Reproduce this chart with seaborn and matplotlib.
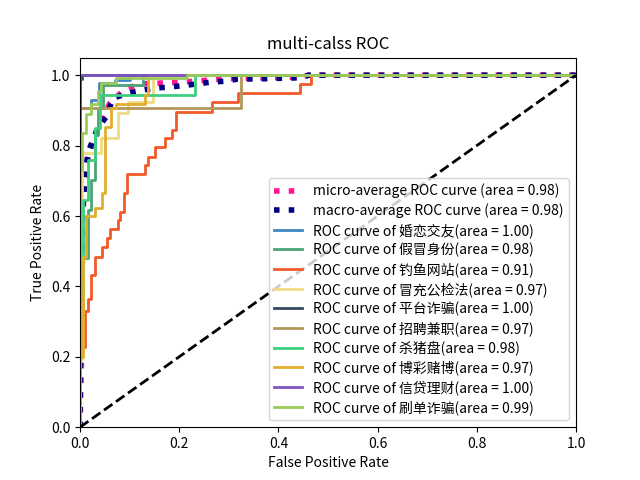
import matplotlib
matplotlib.use("Agg")
import matplotlib.pyplot as plt
import seaborn as sns
import pandas as pd

plt.rcParams['font.family'] = ['Noto Sans CJK SC', 'DejaVu Sans']
plt.rcParams['axes.unicode_minus'] = False

# ---- data ----
micro_fpr = [0, 0.003, 0.005, 0.008, 0.015, 0.025, 0.035, 0.045, 0.06, 0.09, 0.12, 0.2, 0.3, 0.45, 0.46, 1]
micro_tpr = [0, 0.19, 0.5, 0.7, 0.76, 0.80, 0.85, 0.88, 0.92, 0.96, 0.975, 0.98, 0.99, 0.995, 1, 1]
macro_fpr = [0, 0, 0.005, 0.01, 0.016, 0.026, 0.036, 0.052, 0.067, 0.1, 0.147, 0.177, 0.206, 0.262, 0.292, 0.318, 0.373, 0.45, 0.46, 1]
macro_tpr = [0, 0.55, 0.62, 0.70, 0.78, 0.816, 0.85, 0.88, 0.935, 0.95, 0.963, 0.966, 0.97, 0.98, 0.983, 0.989, 0.99, 0.993, 1, 1]
micro_auc = 0.98
macro_auc = 0.98

classes = ["婚恋交友", "假冒身份", "钓鱼网站", "冒充公检法", "平台诈骗",
           "招聘兼职", "杀猪盘", "博彩赌博", "信贷理财", "刷单诈骗"]
aucs = [1.00, 0.98, 0.91, 0.97, 1.00, 0.97, 0.98, 0.97, 1.00, 0.99]

fpr_c0 = [0, 0, 0.022, 0.022, 0.038, 0.038, 0.071, 0.071, 0.101, 0.101, 1]
tpr_c0 = [0, 0.906, 0.906, 0.929, 0.929, 0.977, 0.977, 0.986, 0.986, 1, 1]
fpr_c1 = [0, 0, 0.016, 0.016, 0.022, 0.022, 0.030, 0.030, 0.036, 0.036, 0.046, 0.046, 0.127, 0.127, 1]
tpr_c1 = [0, 0.482, 0.482, 0.618, 0.618, 0.703, 0.703, 0.830, 0.830, 0.906, 0.906, 0.972, 0.972, 1, 1]
fpr_c2 = [0, 0, 0.010, 0.010, 0.016, 0.016, 0.022, 0.022, 0.030, 0.030, 0.044, 0.044, 0.054, 0.054,
          0.060, 0.060, 0.077, 0.077, 0.081, 0.081, 0.089, 0.089, 0.095, 0.095, 0.131, 0.131, 0.137, 0.137,
          0.151, 0.151, 0.171, 0.171, 0.185, 0.185, 0.194, 0.194, 0.266, 0.266, 0.319, 0.319, 0.444, 0.444,
          0.466, 0.466, 1]
tpr_c2 = [0, 0.227, 0.227, 0.331, 0.331, 0.363, 0.363, 0.433, 0.433, 0.484, 0.484, 0.513, 0.513, 0.538,
          0.538, 0.564, 0.564, 0.589, 0.589, 0.612, 0.612, 0.666, 0.666, 0.720, 0.720, 0.745, 0.745, 0.768,
          0.768, 0.796, 0.796, 0.822, 0.822, 0.844, 0.844, 0.895, 0.895, 0.924, 0.924, 0.949, 0.949, 0.975,
          0.975, 1, 1]
fpr_c3 = [0, 0, 0.004, 0.004, 0.042, 0.042, 0.077, 0.077, 0.097, 0.097, 0.147, 0.147, 1]
tpr_c3 = [0, 0.193, 0.193, 0.78, 0.78, 0.822, 0.822, 0.892, 0.892, 0.924, 0.924, 1, 1]
fpr_c4 = [0, 0, 0.004, 0.004, 1]
tpr_c4 = [0, 0.99, 0.99, 1, 1]
fpr_c5 = [0, 0, 0.325, 0.325, 1]
tpr_c5 = [0, 0.906, 0.906, 1, 1]
fpr_c6 = [0, 0, 0.006, 0.006, 0.016, 0.016, 0.03, 0.03, 0.04, 0.04, 0.232, 0.232, 1]
tpr_c6 = [0, 0.36, 0.36, 0.645, 0.645, 0.76, 0.76, 0.85, 0.85, 0.943, 0.943, 1, 1]
fpr_c7 = [0, 0, 0.006, 0.006, 0.012, 0.012, 0.030, 0.030, 0.044, 0.044, 0.05, 0.05, 0.063, 0.063,
          0.073, 0.073, 0.131, 0.131, 0.137, 0.137, 1]
tpr_c7 = [0, 0.2, 0.2, 0.484, 0.484, 0.60, 0.60, 0.623, 0.623, 0.666, 0.666, 0.853, 0.853, 0.906,
          0.906, 0.918, 0.918, 0.943, 0.943, 1, 1]
fpr_c8 = [0, 0, 1]
tpr_c8 = [0, 1, 1]
fpr_c9 = [0, 0, 0.004, 0.004, 0.012, 0.012, 0.022, 0.022, 0.036, 0.036, 0.042, 0.042, 0.073, 0.073,
          0.216, 0.216, 1]
tpr_c9 = [0, 0.73, 0.73, 0.835, 0.835, 0.89, 0.89, 0.919, 0.919, 0.955, 0.955, 0.977, 0.977, 0.993,
          0.993, 1, 1]

fprs = [fpr_c0, fpr_c1, fpr_c2, fpr_c3, fpr_c4, fpr_c5, fpr_c6, fpr_c7, fpr_c8, fpr_c9]
tprs = [tpr_c0, tpr_c1, tpr_c2, tpr_c3, tpr_c4, tpr_c5, tpr_c6, tpr_c7, tpr_c8, tpr_c9]
colors = ["#3f86c4", "#4aa674", "#f15a29", "#f0db82", "#34495e",
          "#b3975a", "#3dcf80", "#e1ae30", "#7e55c2", "#9bcb58"]

fig, ax = plt.subplots(figsize=(6.4, 4.8), dpi=100)

def draw(x, y, **kw):
    df = pd.DataFrame({"fpr": x, "tpr": y})
    sns.lineplot(data=df, x="fpr", y="tpr", sort=False, estimator=None, ax=ax, **kw)

draw(micro_fpr, micro_tpr, color="deeppink", linestyle=":", linewidth=4,
     label="micro-average ROC curve (area = {0:0.2f})".format(micro_auc))
draw(macro_fpr, macro_tpr, color="navy", linestyle=":", linewidth=4,
     label="macro-average ROC curve (area = {0:0.2f})".format(macro_auc))
for name, a, x, y, c in zip(classes, aucs, fprs, tprs, colors):
    draw(x, y, color=c, linewidth=2,
         label="ROC curve of {0}(area = {1:0.2f})".format(name, a))

diag = pd.DataFrame({"fpr": [0, 1], "tpr": [0, 1]})
sns.lineplot(data=diag, x="fpr", y="tpr", color="k", linestyle="--", linewidth=2, ax=ax, legend=False)

ax.set_xlim([0.0, 1.0])
ax.set_ylim([0.0, 1.05])
ax.set_xlabel("False Positive Rate")
ax.set_ylabel("True Positive Rate")
ax.set_title("multi-calss ROC")
ax.legend(loc="lower right", labelspacing=0.35)
fig.savefig("out.png", dpi=100)
